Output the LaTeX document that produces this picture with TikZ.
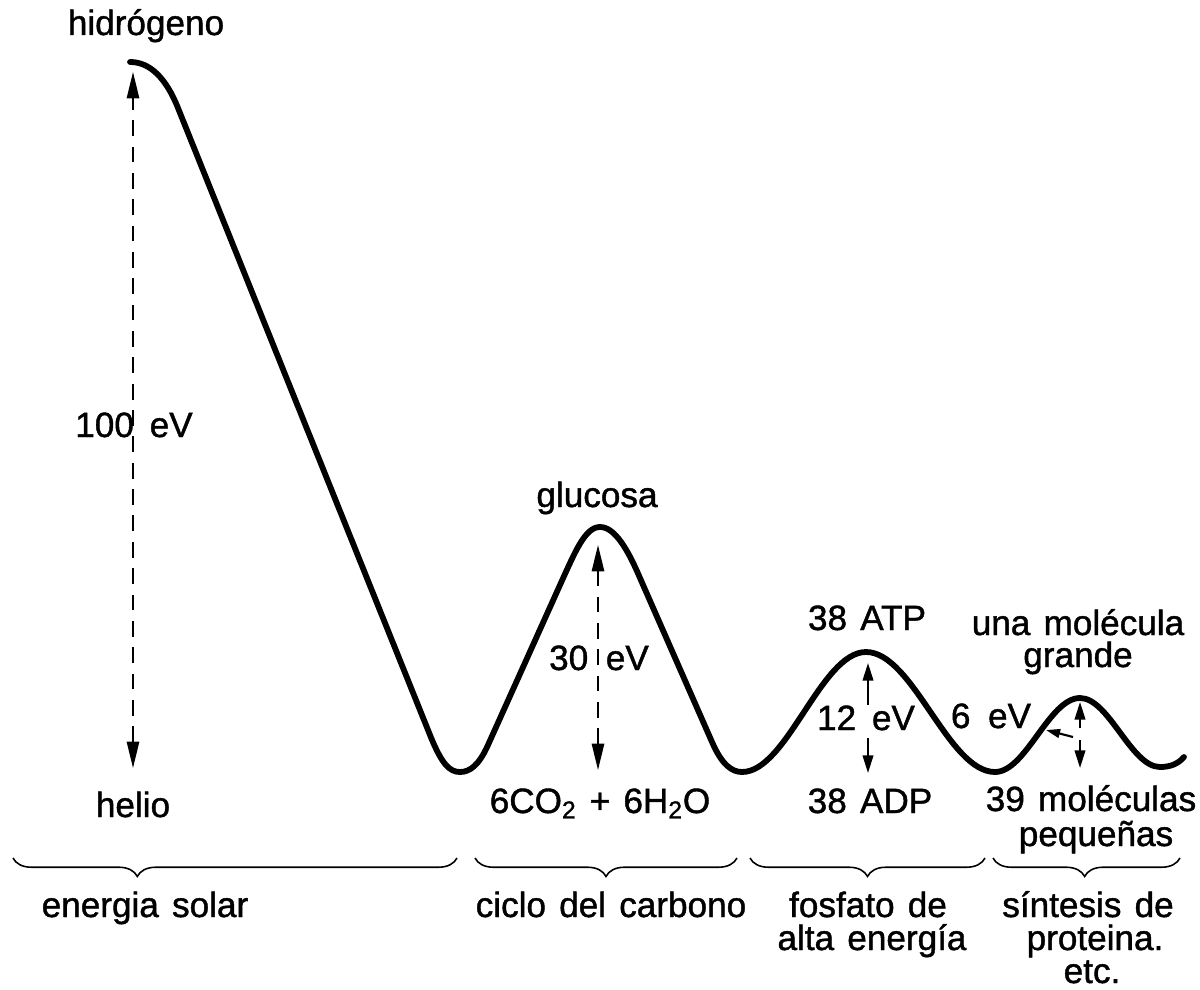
\documentclass[tikz,border=0pt]{standalone}
\usepackage{fontspec}
\setmainfont[WordSpace=1.35,FakeBold=1.2]{Liberation Sans}
\usetikzlibrary{arrows.meta,decorations.pathreplacing}
\begin{document}
\begin{tikzpicture}[x=0.02cm,y=-0.02cm,
  lbl/.style={font=\fontsize{20}{22}\selectfont, inner sep=0pt, anchor=base},
  curve/.style={line width=3.3pt, line cap=round, line join=round},
  dasharr/.style={line width=1.1pt, dash pattern=on 9pt off 6pt,
     {Triangle[length=15pt,width=7pt]}-{Triangle[length=15pt,width=7pt]}},
  smallarr/.style={line width=1.2pt, -{Triangle[length=10pt,width=6pt]}},
  bracebar/.style={line width=0.9pt, decorate,
     decoration={brace, mirror, amplitude=10.5pt, aspect=#1}},
]
\useasboundingbox (0,0) rectangle (1200,990);

% energy curve
\draw[curve] (130,62) .. controls (150,62) and (166,78) .. (178,108)
 -- (430,735) .. controls (442,765) and (450,772) .. (460,772)
 .. controls (470,772) and (479,765) .. (488,745)
 -- (560,585) .. controls (575,552) and (585,527) .. (600,527)
 .. controls (615,527) and (628,550) .. (640,578)
 -- (712,742) .. controls (722,765) and (732,772) .. (742,772)
 .. controls (787,772) and (821,652) .. (866,652)
 .. controls (913,652) and (948,772) .. (995,772)
 .. controls (1026,772) and (1049,698) .. (1080,698)
 .. controls (1109,698) and (1131,767) .. (1160,767)
 .. controls (1170,767) and (1178,764) .. (1184,757);

% coordinates for arrows
\coordinate (hTop) at (133,72);
\coordinate (hBot) at (133,768);
\coordinate (gTop) at (598,545);
\coordinate (gBot) at (598,770);
\coordinate (aUpS) at (868,705);
\coordinate (aUpE) at (868,663);
\coordinate (aDnS) at (868,738);
\coordinate (aDnE) at (868,773);
\coordinate (mUpS) at (1080,728);
\coordinate (mUpE) at (1080,702);
\coordinate (mDnS) at (1080,740);
\coordinate (mDnE) at (1080,768);
\coordinate (sixS) at (1073,737);
\coordinate (sixE) at (1046,730);

\draw[dasharr] (hBot) -- (hTop);
\draw[dasharr] (gBot) -- (gTop);
\draw[smallarr] (aUpS) -- (aUpE);
\draw[smallarr] (aDnS) -- (aDnE);
\draw[smallarr] (mUpS) -- (mUpE);
\draw[smallarr] (mDnS) -- (mDnE);
\draw[line width=1.2pt, -{Triangle[length=8pt,width=5pt]}] (sixS) -- (sixE);

% labels
\node[lbl] (hidro) at (146,35) {hidrógeno};
\node[lbl] (cien) at (134,437) {100\hspace{9pt}eV};
\node[lbl] (helio) at (133,817) {helio};
\node[lbl] (gluc) at (597,507) {glucosa};
\node[lbl] (treinta) at (599,670) {30\hspace{10pt}eV};
\node[lbl] (co2) at (600,813) {6CO\textsubscript{2} + 6H\textsubscript{2}O};
\node[lbl] (atp) at (867,630) {38 ATP};
\node[lbl] (doce) at (866,730) {12\hspace{9pt}eV};
\node[lbl] (adp) at (870,813) {38 ADP};
\node[lbl] (seis) at (991,728) {6\hspace{10pt}eV};
\node[lbl] (una) at (1078,635) {una molécula};
\node[lbl] (grande) at (1078,667) {grande};
\node[lbl] (mol39) at (1091,811) {39 moléculas};
\node[lbl] (pequ) at (1096,846) {pequeñas};

% braces
\coordinate (b1a) at (13,858);  \coordinate (b1b) at (457,858);
\coordinate (b2a) at (475,858); \coordinate (b2b) at (737,858);
\coordinate (b3a) at (750,858); \coordinate (b3b) at (985,858);
\coordinate (b4a) at (993,858); \coordinate (b4b) at (1180,858);
\draw[bracebar=0.28] (b1a) -- (b1b);
\draw[bracebar=0.5] (b2a) -- (b2b);
\draw[bracebar=0.5] (b3a) -- (b3b);
\draw[bracebar=0.49] (b4a) -- (b4b);

\node[lbl] (solar) at (145,917) {energia solar};
\node[lbl] (ciclo) at (611,917) {ciclo del carbono};
\node[lbl] (fosf1) at (868,917) {fosfato de};
\node[lbl] (fosf2) at (872,950) {alta energía};
\node[lbl] (sint1) at (1088,917) {síntesis de};
\node[lbl] (sint2) at (1095,950) {proteina.};
\node[lbl] (sint3) at (1092,983) {etc.};
\end{tikzpicture}
\end{document}
